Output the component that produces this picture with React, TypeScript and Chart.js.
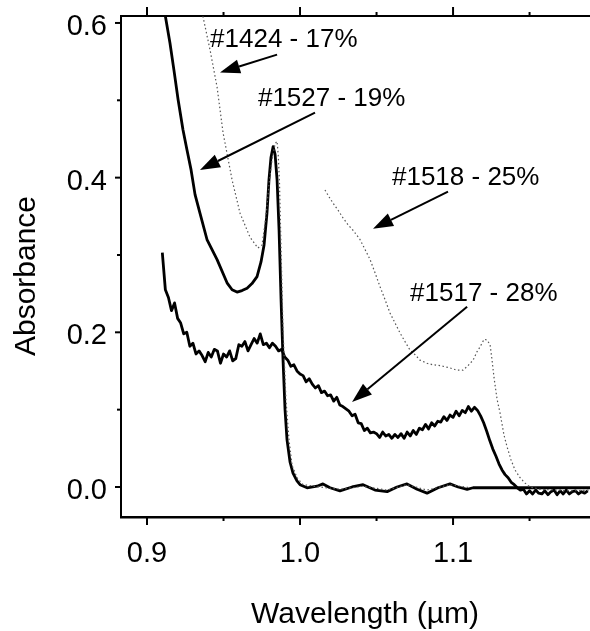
import React, { useEffect, useRef } from "react";
import { Chart, registerables } from "chart.js";

Chart.register(...registerables);

// ---------- axis ranges & ticks ----------
const X_MIN = 0.883;
const X_MAX = 1.1895;
const Y_MIN = -0.0388;
const Y_MAX = 0.609;
const X_MAJOR = [0.9, 1.0, 1.1];
const X_MINOR = [0.95, 1.05, 1.15];
const Y_MAJOR = [0.0, 0.2, 0.4, 0.6];
const Y_MINOR = [0.1, 0.3, 0.5];

// ---------- series: #1527 - 19% (solid, smooth) ----------
const wl1527 = [0.9095, 0.9118, 0.915, 0.9176, 0.9203, 0.9235, 0.9261, 0.9288, 0.9314, 0.9346, 0.9392, 0.9458, 0.9523, 0.9556, 0.9588, 0.9621, 0.9654, 0.9686, 0.9719, 0.9745, 0.9765, 0.9784, 0.9797, 0.981, 0.9824, 0.9837, 0.985, 0.9863, 0.9876, 0.9889, 0.9902, 0.9915, 0.9935, 0.9954, 0.998, 1.0, 1.0046, 1.0111, 1.015, 1.0196, 1.0261, 1.034, 1.0412, 1.049, 1.0569, 1.0634, 1.0699, 1.0765, 1.083, 1.0902, 1.098, 1.1033, 1.1092, 1.1131, 1.1895];
const abs1527 = [0.635, 0.611, 0.574, 0.539, 0.501, 0.462, 0.436, 0.41, 0.378, 0.354, 0.32, 0.294, 0.264, 0.255, 0.252, 0.254, 0.257, 0.263, 0.272, 0.291, 0.313, 0.354, 0.397, 0.426, 0.44, 0.43, 0.397, 0.332, 0.242, 0.164, 0.1, 0.061, 0.032, 0.018, 0.008, 0.003, -0.001, 0.001, 0.004, -0.001, -0.005, 0.0, 0.003, -0.004, -0.006, 0.0, 0.004, -0.003, -0.008, -0.001, 0.004, 0.0, -0.003, -0.001, -0.001];

// ---------- series: #1424 - 17% (dotted) ----------
const wl1424 = [0.9353, 0.9366, 0.9412, 0.9458, 0.9497, 0.9556, 0.9608, 0.9673, 0.9725, 0.9752, 0.9778, 0.9797, 0.9817, 0.9837, 0.985, 0.9858, 0.9866, 0.9876, 0.9889, 0.9908, 0.9928, 0.9948, 0.998, 1.002, 1.0131, 1.0261, 1.0412, 1.0569, 1.0699, 1.083, 1.098, 1.1111];
const abs1424 = [0.624, 0.608, 0.565, 0.517, 0.458, 0.397, 0.354, 0.323, 0.309, 0.313, 0.351, 0.391, 0.423, 0.444, 0.447, 0.428, 0.392, 0.307, 0.203, 0.113, 0.061, 0.028, 0.012, 0.003, 0.0, -0.003, 0.001, -0.004, 0.003, -0.004, 0.003, -0.001];

// ---------- series: #1518 - 25% (dotted) ----------
const wl1518 = [1.0163, 1.019, 1.0216, 1.0248, 1.0281, 1.0314, 1.0346, 1.0373, 1.0392, 1.0425, 1.0458, 1.049, 1.0523, 1.0556, 1.0588, 1.0621, 1.0654, 1.0686, 1.0719, 1.0752, 1.0784, 1.083, 1.0869, 1.0915, 1.098, 1.1026, 1.1065, 1.1098, 1.1131, 1.1157, 1.1176, 1.1203, 1.1222, 1.1242, 1.1255, 1.1268, 1.1288, 1.1307, 1.1333, 1.1353, 1.1379, 1.1405, 1.1438, 1.1471, 1.1503, 1.1569, 1.1667, 1.1765, 1.1895];
const abs1518 = [0.384, 0.375, 0.367, 0.358, 0.348, 0.339, 0.332, 0.325, 0.32, 0.307, 0.294, 0.277, 0.259, 0.242, 0.225, 0.212, 0.199, 0.188, 0.177, 0.171, 0.164, 0.16, 0.158, 0.157, 0.154, 0.151, 0.151, 0.157, 0.164, 0.175, 0.181, 0.191, 0.19, 0.184, 0.164, 0.141, 0.113, 0.096, 0.067, 0.052, 0.035, 0.022, 0.012, 0.005, 0.0, -0.003, -0.004, -0.005, -0.004];

// ---------- series: #1517 - 28% (solid, noisy) ----------
const wl1517 = [
  0.910, 0.912, 0.914, 0.916, 0.918, 0.920, 0.922, 0.924, 0.926, 0.928,
  0.930, 0.932, 0.934, 0.936, 0.938, 0.940, 0.942, 0.944, 0.946, 0.948,
  0.950, 0.952, 0.954, 0.956, 0.958, 0.960, 0.962, 0.964, 0.966, 0.968,
  0.970, 0.972, 0.974, 0.976, 0.978, 0.980, 0.982, 0.984, 0.986, 0.988,
  0.990, 0.992, 0.994, 0.996, 0.998, 1.000, 1.002, 1.004, 1.006, 1.008,
  1.010, 1.012, 1.014, 1.016, 1.018, 1.020, 1.022, 1.024, 1.026, 1.028,
  1.030, 1.032, 1.034, 1.036, 1.038, 1.040, 1.042, 1.044, 1.046, 1.048,
  1.050, 1.052, 1.054, 1.056, 1.058, 1.060, 1.062, 1.064, 1.066, 1.068,
  1.070, 1.072, 1.074, 1.076, 1.078, 1.080, 1.082, 1.084, 1.086, 1.088,
  1.090, 1.092, 1.094, 1.096, 1.098, 1.100, 1.102, 1.104, 1.106, 1.108,
  1.110, 1.112, 1.114, 1.116, 1.118, 1.120, 1.122, 1.124, 1.126, 1.128,
  1.130, 1.132, 1.134, 1.136, 1.138, 1.140, 1.142, 1.144, 1.146, 1.148,
  1.150, 1.152, 1.154, 1.156, 1.158, 1.160, 1.162, 1.164, 1.166, 1.168,
  1.170, 1.172, 1.174, 1.176, 1.178, 1.180, 1.182, 1.184, 1.186, 1.188,
];
const abs1517 = [
  0.303, 0.255, 0.245, 0.228, 0.238, 0.218, 0.212, 0.198, 0.200, 0.182,
  0.186, 0.172, 0.176, 0.170, 0.162, 0.174, 0.168, 0.178, 0.176, 0.160,
  0.172, 0.168, 0.176, 0.163, 0.166, 0.184, 0.182, 0.188, 0.176, 0.184,
  0.192, 0.186, 0.198, 0.184, 0.186, 0.180, 0.186, 0.182, 0.176, 0.178,
  0.168, 0.164, 0.156, 0.158, 0.150, 0.146, 0.144, 0.136, 0.140, 0.133,
  0.128, 0.131, 0.122, 0.124, 0.118, 0.119, 0.111, 0.116, 0.106, 0.104,
  0.101, 0.098, 0.092, 0.094, 0.083, 0.082, 0.073, 0.076, 0.070, 0.071,
  0.069, 0.064, 0.071, 0.066, 0.068, 0.063, 0.068, 0.064, 0.069, 0.063,
  0.071, 0.066, 0.073, 0.068, 0.076, 0.074, 0.081, 0.075, 0.083, 0.079,
  0.085, 0.084, 0.091, 0.086, 0.093, 0.090, 0.098, 0.092, 0.099, 0.096,
  0.104, 0.098, 0.103, 0.099, 0.092, 0.083, 0.072, 0.060, 0.049, 0.040,
  0.030, 0.022, 0.016, 0.012, 0.006, 0.003, -0.001, -0.004, -0.003, -0.009,
  -0.005, -0.009, -0.004, -0.008, -0.009, -0.005, -0.010, -0.006, -0.004, -0.010,
  -0.005, -0.009, -0.004, -0.009, -0.006, -0.005, -0.009, -0.006, -0.008, -0.005,
];

// ---------- annotations ----------
const LABELS = ["#1424 - 17%", "#1527 - 19%", "#1518 - 25%", "#1517 - 28%"];
const LABEL_X = [0.9412, 0.9725, 1.0601, 1.0719];
const LABEL_Y = [0.578, 0.502, 0.4, 0.25];
const ARROW_FROM_X = [0.985, 1.0098, 1.0967, 1.1092];
const ARROW_FROM_Y = [0.559, 0.484, 0.382, 0.233];
const ARROW_TO_X = [0.9477, 0.9346, 1.0477, 1.034];
const ARROW_TO_Y = [0.536, 0.41, 0.334, 0.11];

const X_TITLE = "Wavelength (µm)";
const Y_TITLE = "Absorbance";

const FONT = "'Liberation Sans', Arial, Helvetica, sans-serif";

const zip = (xs: number[], ys: number[]) => xs.map((x, i) => ({ x, y: ys[i] }));

const noPad = (s: any) => {
  s.paddingTop = 0;
  s.paddingBottom = 0;
  s.paddingLeft = 0;
  s.paddingRight = 0;
};

const decorPlugin = {
  id: "decor",
  afterDraw(chart: any) {
    const { ctx, chartArea } = chart;
    const xs = chart.scales.x;
    const ys = chart.scales.y;
    ctx.save();
    ctx.strokeStyle = "#000";
    ctx.fillStyle = "#000";
    ctx.lineCap = "butt";

    const tick = (x1: number, y1: number, x2: number, y2: number, w: number) => {
      ctx.lineWidth = w;
      ctx.beginPath();
      ctx.moveTo(x1, y1);
      ctx.lineTo(x2, y2);
      ctx.stroke();
    };
    X_MAJOR.forEach((v) => {
      const px = xs.getPixelForValue(v);
      tick(px, chartArea.bottom, px, chartArea.bottom + 8, 2);
      tick(px, chartArea.top, px, chartArea.top - 9, 2);
    });
    X_MINOR.forEach((v) => {
      const px = xs.getPixelForValue(v);
      tick(px, chartArea.bottom, px, chartArea.bottom + 4, 2);
      tick(px, chartArea.top, px, chartArea.top - 4, 2);
    });
    Y_MAJOR.forEach((v) => {
      const py = ys.getPixelForValue(v);
      tick(chartArea.left, py, chartArea.left - 6, py, 2);
    });
    Y_MINOR.forEach((v) => {
      const py = ys.getPixelForValue(v);
      tick(chartArea.left, py, chartArea.left - 4, py, 2);
    });

    // annotation labels & arrows
    ctx.font = `26px ${FONT}`;
    ctx.textAlign = "left";
    ctx.textBaseline = "middle";
    LABELS.forEach((t, i) => {
      ctx.fillText(t, xs.getPixelForValue(LABEL_X[i]), ys.getPixelForValue(LABEL_Y[i]));
      const x1 = xs.getPixelForValue(ARROW_FROM_X[i]);
      const y1 = ys.getPixelForValue(ARROW_FROM_Y[i]);
      const x2 = xs.getPixelForValue(ARROW_TO_X[i]);
      const y2 = ys.getPixelForValue(ARROW_TO_Y[i]);
      const ang = Math.atan2(y2 - y1, x2 - x1);
      const headLen = 20;
      const headHalf = 7;
      const bx = x2 - headLen * Math.cos(ang);
      const by = y2 - headLen * Math.sin(ang);
      ctx.lineWidth = 2;
      ctx.beginPath();
      ctx.moveTo(x1, y1);
      ctx.lineTo(bx, by);
      ctx.stroke();
      ctx.beginPath();
      ctx.moveTo(x2, y2);
      ctx.lineTo(bx + headHalf * Math.sin(ang), by - headHalf * Math.cos(ang));
      ctx.lineTo(bx - headHalf * Math.sin(ang), by + headHalf * Math.cos(ang));
      ctx.closePath();
      ctx.fill();
    });

    // axis titles
    ctx.font = `30px ${FONT}`;
    ctx.textAlign = "center";
    ctx.textBaseline = "alphabetic";
    ctx.fillText(X_TITLE, 365, 623);
    ctx.translate(35, 276);
    ctx.rotate(-Math.PI / 2);
    ctx.fillText(Y_TITLE, 0, 0);
    ctx.restore();
  },
};

export default function App() {
  const ref = useRef<HTMLCanvasElement | null>(null);
  useEffect(() => {
    document.body.style.margin = "0";
    if (!ref.current) return;
    const solid = (data: any[], label: string) => ({
      label,
      data,
      borderColor: "#000",
      borderWidth: 2.8,
      pointRadius: 0,
      tension: 0,
      fill: false,
      borderJoinStyle: "round" as const,
    });
    const dotted = (data: any[], label: string) => ({
      label,
      data,
      borderColor: "#555",
      borderWidth: 1.2,
      borderDash: [1.5, 2.5],
      pointRadius: 0,
      tension: 0,
      fill: false,
    });
    const chart = new Chart(ref.current, {
      type: "line",
      data: {
        datasets: [
          dotted(zip(wl1424, abs1424), LABELS[0]),
          dotted(zip(wl1518, abs1518), LABELS[2]),
          solid(zip(wl1527, abs1527), LABELS[1]),
          solid(zip(wl1517, abs1517), LABELS[3]),
        ],
      },
      options: {
        animation: false,
        responsive: false,
        devicePixelRatio: 1,
        layout: { padding: 0 },
        plugins: { legend: { display: false }, tooltip: { enabled: false } },
        scales: {
          x: {
            type: "linear",
            position: "bottom",
            min: X_MIN,
            max: X_MAX,
            afterBuildTicks: (s: any) => {
              s.ticks = X_MAJOR.map((v) => ({ value: v }));
            },
            afterFit: (s: any) => {
              s.height = 114;
              noPad(s);
            },
            grid: { display: false, drawTicks: false },
            border: { display: true, color: "#000", width: 2.5 },
            ticks: {
              padding: 20,
              color: "#000",
              autoSkip: false,
              maxRotation: 0,
              font: { family: FONT, size: 29 },
              callback: (v: any) => Number(v).toFixed(1),
            },
          },
          x2: {
            type: "linear",
            position: "top",
            min: X_MIN,
            max: X_MAX,
            afterFit: (s: any) => {
              s.height = 16;
              noPad(s);
            },
            grid: { display: false, drawTicks: false },
            border: { display: true, color: "#000", width: 2 },
            ticks: { display: false },
          },
          y: {
            type: "linear",
            position: "left",
            min: Y_MIN,
            max: Y_MAX,
            afterBuildTicks: (s: any) => {
              s.ticks = Y_MAJOR.map((v) => ({ value: v }));
            },
            afterFit: (s: any) => {
              s.width = 121;
              noPad(s);
            },
            grid: { display: false, drawTicks: false },
            border: { display: true, color: "#000", width: 2 },
            ticks: {
              padding: 14,
              labelOffset: 4,
              color: "#000",
              font: { family: FONT, size: 29 },
              callback: (v: any) => Number(v).toFixed(1),
            },
          },
        },
      },
      plugins: [decorPlugin],
    });
    return () => chart.destroy();
  }, []);
  return <canvas ref={ref} width={590} height={631} style={{ display: "block" }} />;
}
